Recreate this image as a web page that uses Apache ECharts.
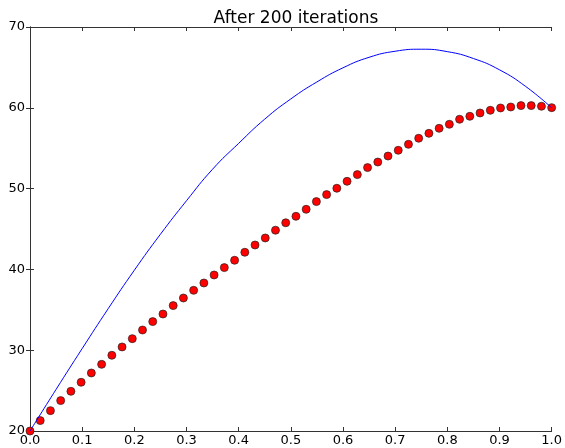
<!DOCTYPE html>
<html>
<head>
<meta charset="utf-8">
<script src="https://cdn.jsdelivr.net/npm/echarts@6/dist/echarts.min.js"></script>
<style>
  html, body { margin: 0; padding: 0; background: #fff; }
  #chart { width: 565px; height: 448px; }
</style>
</head>
<body>
<div id="chart"></div>
<script>
// 曲线（蓝线）取样点
var lineX = [0, 0.05, 0.1, 0.15, 0.2, 0.25, 0.3, 0.35, 0.4, 0.45, 0.5,
  0.55, 0.6, 0.65, 0.7, 0.75, 0.8, 0.85, 0.9, 0.95, 1.0];
var lineY = [20, 25.15, 30.2, 35.15, 39.9, 44.35, 48.5, 52.4, 55.6, 58.6, 61.1,
  63.2, 64.95, 66.25, 67.0, 67.25, 66.95, 66.1, 64.7, 62.65, 60.0];

// 红点
var dotX = [0, 0.0196, 0.0392, 0.0588, 0.0784, 0.0980, 0.1176, 0.1373, 0.1569, 0.1765,
  0.1961, 0.2157, 0.2353, 0.2549, 0.2745, 0.2941, 0.3137, 0.3333, 0.3529, 0.3725,
  0.3922, 0.4118, 0.4314, 0.4510, 0.4706, 0.4902, 0.5098, 0.5294, 0.5490, 0.5686,
  0.5882, 0.6078, 0.6275, 0.6471, 0.6667, 0.6863, 0.7059, 0.7255, 0.7451, 0.7647,
  0.7843, 0.8039, 0.8235, 0.8431, 0.8627, 0.8824, 0.9020, 0.9216, 0.9412, 0.9608,
  0.9804, 1.0];
var dotY = [20, 21.29, 22.52, 23.76, 24.91, 26.03, 27.18, 28.25, 29.37, 30.40,
  31.43, 32.5, 33.54, 34.48, 35.52, 36.46, 37.41, 38.32, 39.31, 40.22,
  41.13, 42.12, 43.02, 43.89, 44.85, 45.77, 46.57, 47.44, 48.39, 49.26,
  50.04, 50.9, 51.73, 52.6, 53.29, 54.03, 54.74, 55.48, 56.23, 56.84,
  57.46, 57.96, 58.58, 58.95, 59.36, 59.69, 59.98, 60.1, 60.27, 60.27,
  60.19, 60.02];

var titleText = 'After 200 iterations';

var zip = function (xs, ys) {
  return xs.map(function (x, i) { return [x, ys[i]]; });
};

var font = 'DejaVu Sans';
var axisLineStyle = { color: '#333', width: 1 };

var option = {
  animation: false,
  backgroundColor: '#fff',
  title: {
    text: titleText,
    left: 291,
    top: 5,
    textAlign: 'center',
    textStyle: { fontFamily: font, fontSize: 17, fontWeight: 'normal', color: '#000' }
  },
  grid: { left: 30, right: 12, top: 27, bottom: 17, containLabel: false },
  xAxis: [
    {
      type: 'value', min: 0, max: 1, interval: 0.1,
      axisLine: { show: true, lineStyle: axisLineStyle },
      axisTick: { show: true, inside: true, length: 4, lineStyle: axisLineStyle },
      splitLine: { show: false },
      axisLabel: {
        fontFamily: font, fontSize: 13, color: '#000', margin: 3,
        formatter: function (v) { return v.toFixed(1); }
      }
    },
    {
      type: 'value', min: 0, max: 1, interval: 0.1, position: 'top',
      axisLine: { show: true, lineStyle: axisLineStyle },
      axisTick: { show: true, inside: true, length: 4, lineStyle: axisLineStyle },
      splitLine: { show: false },
      axisLabel: { show: false }
    }
  ],
  yAxis: [
    {
      type: 'value', min: 20, max: 70, interval: 10,
      axisLine: { show: true, lineStyle: axisLineStyle },
      axisTick: { show: true, inside: true, length: 4, lineStyle: axisLineStyle },
      splitLine: { show: false },
      axisLabel: { fontFamily: font, fontSize: 13, color: '#000', margin: 5 }
    },
    {
      type: 'value', min: 20, max: 70, interval: 10, position: 'right',
      axisLine: { show: true, lineStyle: axisLineStyle },
      axisTick: { show: true, inside: true, length: 4, lineStyle: axisLineStyle },
      splitLine: { show: false },
      axisLabel: { show: false }
    }
  ],
  series: [
    {
      type: 'scatter',
      data: zip(dotX, dotY),
      symbol: 'circle',
      symbolSize: 8,
      itemStyle: { color: '#ff0000', opacity: 1, borderColor: '#222', borderWidth: 0.7 },
      z: 2
    },
    {
      type: 'line',
      data: zip(lineX, lineY),
      smooth: 0.5,
      showSymbol: false,
      lineStyle: { color: '#0000ff', width: 1 },
      z: 3
    }
  ]
};

var myChart = echarts.init(document.getElementById('chart'));
myChart.setOption(option);
</script>
</body>
</html>
